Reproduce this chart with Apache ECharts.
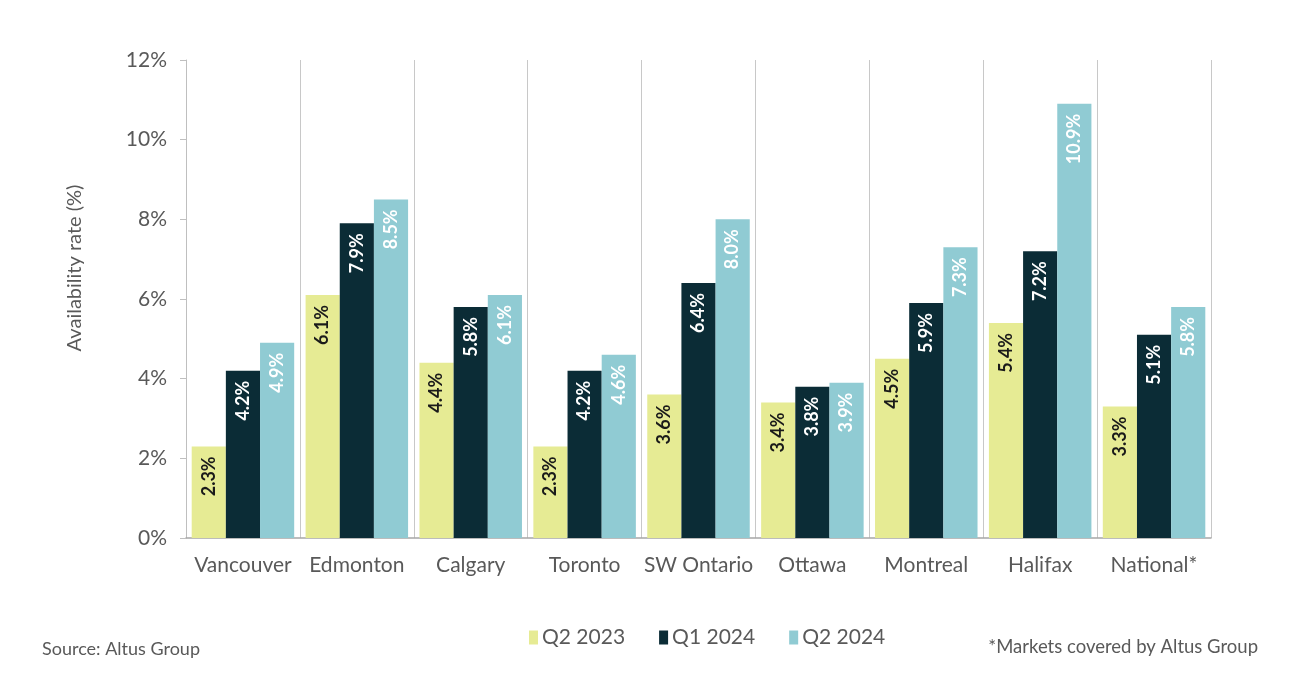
<!DOCTYPE html>
<html><head><meta charset="utf-8">
<script src="https://cdn.jsdelivr.net/npm/echarts@6/dist/echarts.min.js"></script>
<style>html,body{margin:0;padding:0;background:#fff}#c{width:1297px;height:682px}</style>
</head><body><div id="c"></div>
<script>
const categories = ['Vancouver','Edmonton','Calgary','Toronto','SW Ontario','Ottawa','Montreal','Halifax','National*'];
const q2_2023 = [2.3, 6.1, 4.4, 2.3, 3.6, 3.4, 4.5, 5.4, 3.3];
const q1_2024 = [4.2, 7.9, 5.8, 4.2, 6.4, 3.8, 5.9, 7.2, 5.1];
const q2_2024 = [4.9, 8.5, 6.1, 4.6, 8.0, 3.9, 7.3, 10.9, 5.8];
const yTicks = [0, 2, 4, 6, 8, 10, 12];

const FONT = 'Lato, "Noto Sans", sans-serif';
function mk(name, data, color, labelColor) {
  return {
    name, type: 'bar', data, barGap: '0%', barCategoryGap: '10%',
    itemStyle: { color },
    label: {
      show: true, position: 'insideTop', rotate: 90, align: 'right', verticalAlign: 'middle',
      distance: 10, color: labelColor, fontFamily: FONT, fontSize: 18, fontWeight: 'bold',
      formatter: p => p.value.toFixed(1) + '%'
    }
  };
}
const chart = echarts.init(document.getElementById('c'));
chart.setOption({
  animation: false,
  textStyle: { fontFamily: FONT },
  grid: { left: 186, right: 86, top: 60, bottom: 144 },
  legend: {
    data: ['Q2 2023','Q1 2024','Q2 2024'], left: 524, top: 622,
    itemWidth: 9, itemHeight: 14, itemGap: 34, icon: 'rect',
    textStyle: { fontFamily: FONT, fontSize: 21, color: '#595959', padding: [0, 0, 0, -1] }
  },
  xAxis: {
    type: 'category', data: categories,
    axisLine: { lineStyle: { color: '#a6a6a6', width: 1.5 } },
    axisTick: { show: false },
    splitLine: { show: true, lineStyle: { color: '#c8c8c8', width: 1 } },
    axisLabel: { fontFamily: FONT, fontSize: 21, color: '#595959', margin: 17, interval: 0 }
  },
  yAxis: {
    type: 'value', min: yTicks[0], max: yTicks[yTicks.length-1], interval: 2,
    axisLine: { show: true, lineStyle: { color: '#bfbfbf' } },
    axisTick: { show: true, length: 6, lineStyle: { color: '#bfbfbf' } },
    splitLine: { show: false },
    axisLabel: { fontFamily: FONT, fontSize: 21, color: '#595959', margin: 19, formatter: v => v + '%' }
  },
  series: [
    mk('Q2 2023', q2_2023, '#E6EB94', '#1a1a1a'),
    mk('Q1 2024', q1_2024, '#0B2C36', '#ffffff'),
    mk('Q2 2024', q2_2024, '#90CBD3', '#ffffff')
  ],
  graphic: [
    { type: 'text', x: 75, y: 268, rotation: Math.PI / 2,
      style: { text: 'Availability rate (%)', font: '20px ' + FONT, fill: '#595959', textAlign: 'center', textVerticalAlign: 'middle' } },
    { type: 'text', left: 42, top: 640, style: { text: 'Source: Altus Group', font: '18px ' + FONT, fill: '#595959' } },
    { type: 'text', right: 39, top: 638, style: { text: '*Markets covered by Altus Group', font: '18.5px ' + FONT, fill: '#595959' } }
  ]
});
</script></body></html>
